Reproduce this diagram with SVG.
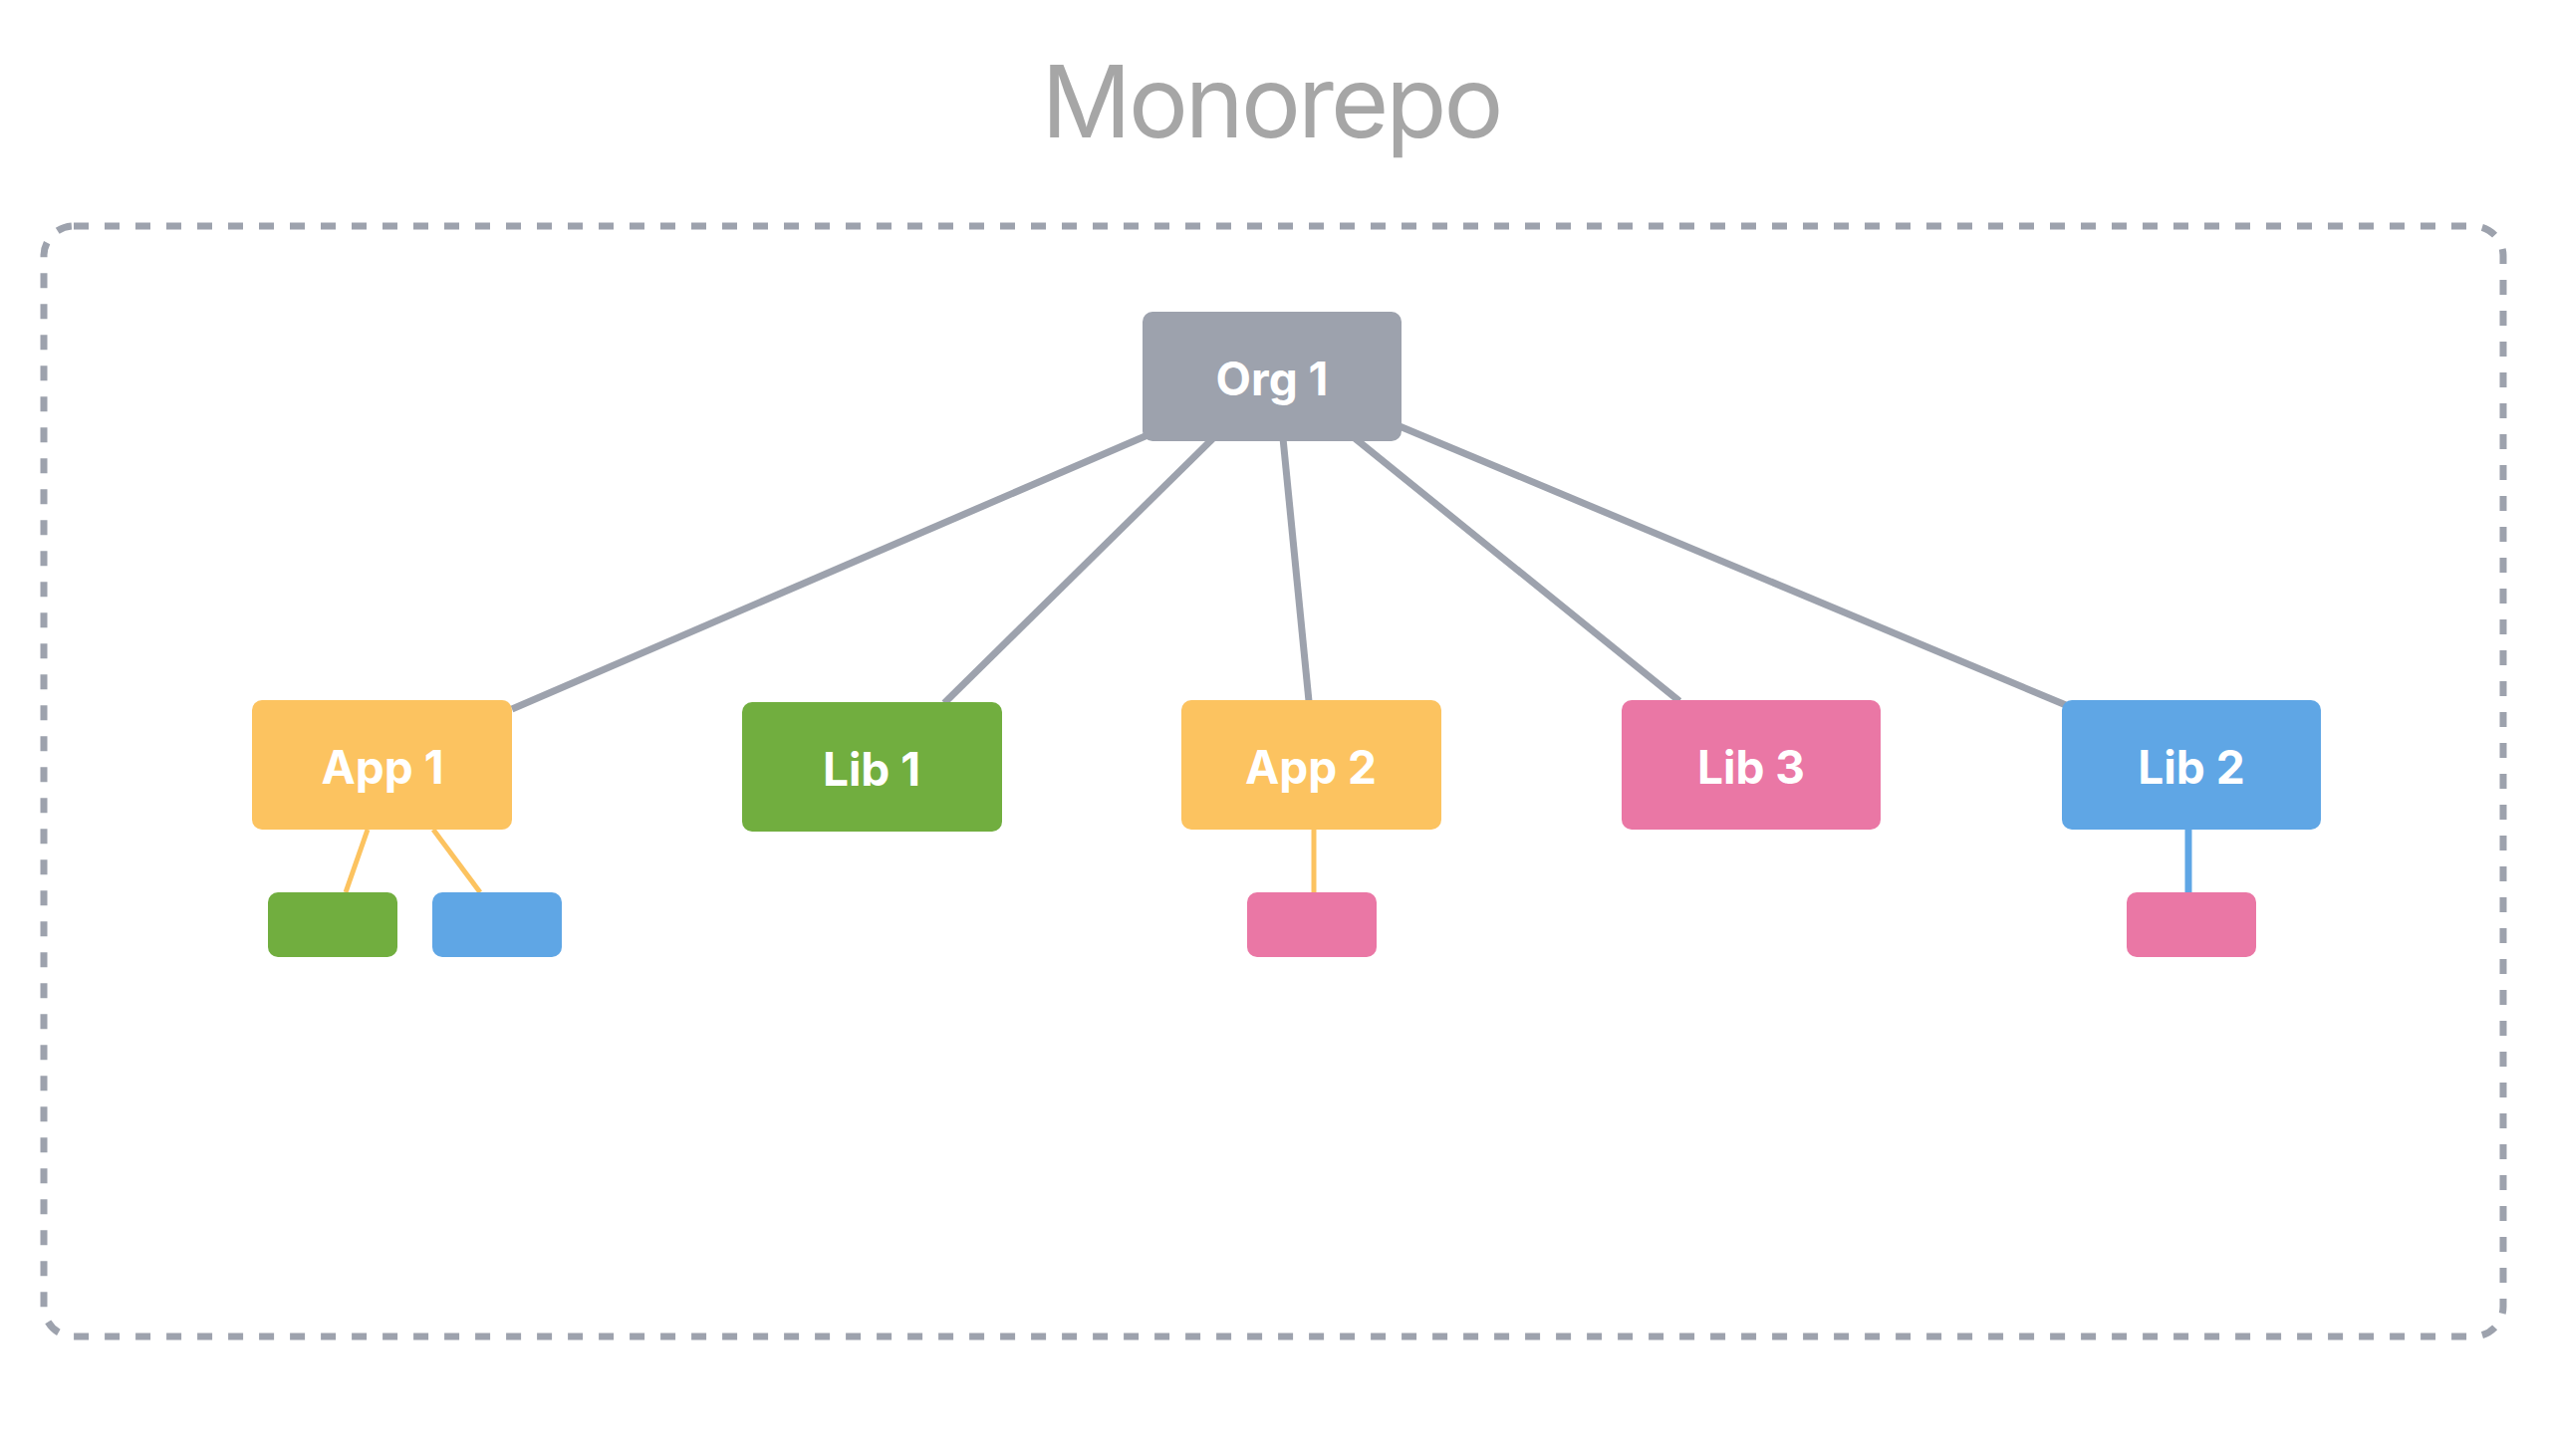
<svg xmlns="http://www.w3.org/2000/svg" width="2560" height="1462" viewBox="0 0 2560 1462">
<style>
.title{font-family:Inter,"Noto Sans","Liberation Sans",sans-serif;font-size:100px;letter-spacing:-3px;fill:#a6a6a6;text-anchor:middle}
.lbl{font-family:Inter,"Noto Sans","Liberation Sans",sans-serif;font-size:46px;font-weight:700;fill:#ffffff;text-anchor:middle}
.gray{fill:#9da2ad}.yellow{fill:#fcc360}.green{fill:#71ae3f}.blue{fill:#5fa6e5}.pink{fill:#ea77a5}
.main{stroke:#9da2ad;stroke-width:7;fill:none}
.sy{stroke:#fcc360;stroke-width:5;fill:none}
.sb{stroke:#5fa6e5;stroke-width:7;fill:none}
</style>
<rect width="2560" height="1462" fill="#ffffff"/>
<text class="title" x="1276" y="138">Monorepo</text>
<rect id="monorepo" x="44" y="227" width="2469" height="1115" rx="30" fill="none" stroke="#9da2ad" stroke-width="7" stroke-dasharray="15 16"/>
<g id="connectors">
<line class="main" x1="1152" y1="437" x2="514" y2="712"/>
<line class="main" x1="1218" y1="440" x2="948" y2="706"/>
<line class="main" x1="1288" y1="440" x2="1314" y2="704"/>
<line class="main" x1="1360" y1="440" x2="1686" y2="704"/>
<line class="main" x1="1405" y1="428" x2="2074" y2="708"/>
<line class="sy" x1="369" y1="833" x2="347" y2="896"/>
<line class="sy" x1="435" y1="833" x2="482" y2="896"/>
<line class="sy" x1="1319" y1="833" x2="1319" y2="896"/>
<line class="sb" x1="2197" y1="833" x2="2197" y2="896"/>
</g>
<g id="org1"><rect class="gray" x="1147" y="313" width="260" height="130" rx="10"/><text class="lbl" x="1277" y="397">Org 1</text></g>
<g id="app1"><rect class="yellow" x="253" y="703" width="261" height="130" rx="10"/><text class="lbl" x="384" y="787">App 1</text></g>
<g id="lib1"><rect class="green" x="745" y="705" width="261" height="130" rx="10"/><text class="lbl" x="875" y="789">Lib 1</text></g>
<g id="app2"><rect class="yellow" x="1186" y="703" width="261" height="130" rx="10"/><text class="lbl" x="1316" y="787">App 2</text></g>
<g id="lib3"><rect class="pink" x="1628" y="703" width="260" height="130" rx="10"/><text class="lbl" x="1758" y="787">Lib 3</text></g>
<g id="lib2"><rect class="blue" x="2070" y="703" width="260" height="130" rx="10"/><text class="lbl" x="2200" y="787">Lib 2</text></g>
<g id="app1-dep-green"><rect class="green" x="269" y="896" width="130" height="65" rx="10"/></g>
<g id="app1-dep-blue"><rect class="blue" x="434" y="896" width="130" height="65" rx="10"/></g>
<g id="app2-dep-pink"><rect class="pink" x="1252" y="896" width="130" height="65" rx="10"/></g>
<g id="lib2-dep-pink"><rect class="pink" x="2135" y="896" width="130" height="65" rx="10"/></g>
</svg>
